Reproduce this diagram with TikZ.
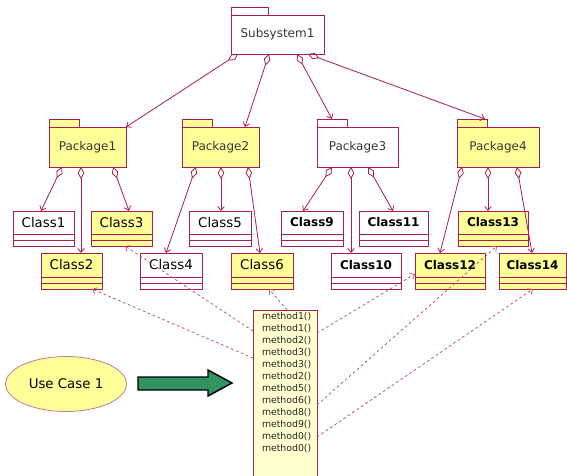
\documentclass[tikz,border=0pt]{standalone}
\usepackage{fontspec}
\setmainfont{DejaVu Sans}
\usetikzlibrary{arrows.meta,shapes.geometric}

\definecolor{umlred}{RGB}{168,30,80}
\definecolor{umlyellow}{RGB}{255,255,153}
\definecolor{notefill}{RGB}{255,255,208}
\definecolor{arrowgreen}{RGB}{49,146,98}
\definecolor{pkgtext}{RGB}{55,55,55}

\tikzset{
  every node/.style={inner sep=0pt, outer sep=0pt},
  umlline/.style={draw=umlred, line width=0.6pt},
  pkgbox/.style={umlline, line width=0.7pt, text=pkgtext, font=\fontsize{9}{11}\selectfont},
  classbox/.style={umlline, line width=0.7pt},
  plainname/.style={font=\fontsize{10}{12}\selectfont},
  boldname/.style={font=\bfseries\fontsize{9}{11}\selectfont},
  agg/.style={umlline, {Diamond[open,length=9pt,width=5pt]}-{Straight Barb[length=3pt,width=5pt]}},
  dep/.style={draw=umlred!80, line width=0.55pt, dash pattern=on 2pt off 2pt,
              -{Straight Barb[length=3pt,width=5pt]}},
}

% package: name, x1, y1, x2, y2, fill, label
\newcommand\umlpkg[7]{%
  \node[pkgbox, fill=#6, minimum width={(#4-#2)*0.75pt}, minimum height={(#5-#3)*0.75pt},
        anchor=north west] (#1) at (#2,#3) {#7};
  \node[pkgbox, fill=#6, minimum width=23pt, minimum height=6pt,
        anchor=south west] (#1-tab) at (#1.north west) {};
}

% class: name, x1, y1, x2, y2, fill, label style, label
\newcommand\umlclass[8]{%
  \node[classbox, fill=#6, minimum width={(#4-#2)*0.75pt}, minimum height={(#5-#3)*0.75pt},
        anchor=north west] (#1) at (#2,#3) {};
  \draw[umlline] ([yshift=9pt]#1.south west) -- ([yshift=9pt]#1.south east)
                 ([yshift=4.5pt]#1.south west) -- ([yshift=4.5pt]#1.south east);
  \node[#7] (#1-name) at ({(#2+#4)/2},{(#3+#5-12)/2}) {#8};
}

\begin{document}
\begin{tikzpicture}[x=0.75pt,y=-0.75pt]
\clip (0,0) rectangle (567,475);
\fill[white] (0,0) rectangle (567,475);

% subsystem
\node[pkgbox, fill=white, minimum width={93*0.75pt}, minimum height={39*0.75pt},
      anchor=north west] (sub) at (231,15) {Subsystem1};
\node[pkgbox, fill=white, minimum width={37*0.75pt}, minimum height=5.5pt,
      anchor=south west] (sub-tab) at (sub.north west) {};

% packages
\umlpkg{pk1}{49}{127}{126}{167}{umlyellow}{Package1}
\umlpkg{pk2}{182}{127}{259}{167}{umlyellow}{Package2}
\umlpkg{pk3}{317}{127}{398}{167}{white}{Package3}
\umlpkg{pk4}{457}{127}{539}{167}{umlyellow}{Package4}

% classes, upper row
\umlclass{c1}{13}{211}{74}{246}{white}{plainname}{Class1}
\umlclass{c3}{91}{211}{152}{246}{umlyellow}{plainname}{Class3}
\umlclass{c5}{189}{211}{251}{246}{white}{plainname}{Class5}
\umlclass{c9}{281}{211}{343}{246}{white}{boldname}{Class9}
\umlclass{c11}{359}{211}{428}{246}{white}{boldname}{Class11}
\umlclass{c13}{458}{211}{528}{246}{umlyellow}{boldname}{Class13}

% classes, lower row
\umlclass{c2}{41}{253}{102}{289}{umlyellow}{plainname}{Class2}
\umlclass{c4}{140}{253}{202}{289}{white}{plainname}{Class4}
\umlclass{c6}{231}{253}{293}{289}{umlyellow}{plainname}{Class6}
\umlclass{c10}{331}{253}{401}{289}{white}{boldname}{Class10}
\umlclass{c12}{415}{253}{485}{289}{umlyellow}{boldname}{Class12}
\umlclass{c14}{499}{253}{566}{289}{umlyellow}{boldname}{Class14}

% aggregations from the subsystem
\draw[agg] (238,0 |- sub.south) -- (pk1.north east);
\draw[agg] (269,0 |- sub.south) -- (245,0 |- pk2.north);
\draw[agg] (297,0 |- sub.south) -- (332,0 |- pk3-tab.north);
\draw[agg] (308,0 |- sub.south) -- (485,0 |- pk4-tab.north);

% aggregations from the packages
\draw[agg] (62,0 |- pk1.south) -- (41,0 |- c1.north);
\draw[agg] (81,0 |- pk1.south) -- (81,0 |- c2.north);
\draw[agg] (113,0 |- pk1.south) -- (129,0 |- c3.north);
\draw[agg] (196,0 |- pk2.south) -- (166,0 |- c4.north);
\draw[agg] (221,0 |- pk2.south) -- (221,0 |- c5.north);
\draw[agg] (248,0 |- pk2.south) -- (260,0 |- c6.north);
\draw[agg] (332,0 |- pk3.south) -- (303,0 |- c9.north);
\draw[agg] (351,0 |- pk3.south) -- (351,0 |- c10.north);
\draw[agg] (368,0 |- pk3.south) -- (393,0 |- c11.north);
\draw[agg] (462,0 |- pk4.south) -- (440,0 |- c12.north);
\draw[agg] (488,0 |- pk4.south) -- (488,0 |- c13.north);
\draw[agg] (517,0 |- pk4.south) -- (532,0 |- c14.north);

% method list
\node[classbox, fill=notefill, minimum width={64*0.75pt}, minimum height={172*0.75pt},
      anchor=north west] (mb) at (253,310) {};
\node[anchor=north west, align=left, text=black!85,
      font=\fontsize{7}{9}\selectfont] (mtext) at (262,312.5)
  {method1()\\method1()\\method2()\\method3()\\method3()\\method2()\\
   method5()\\method6()\\method8()\\method9()\\method0()\\method0()};

% dependencies from the method list
\draw[dep] (287,0 |- mb.north) -- (269,0 |- c6.south);
\draw[dep] (mb.west |- 0,331) -- (125,0 |- c3.south);
\draw[dep] (mb.west |- 0,358) -- (92,0 |- c2.south);
\draw[dep] (mb.east |- 0,333) -- (c12.west |- 0,274);
\draw[dep] (mb.east |- 0,405) -- (497,0 |- c13.south);
\draw[dep] (mb.east |- 0,437) -- (533,0 |- c14.south);

% use case and the green arrow
\node[ellipse, draw=umlred!60, line width=0.6pt, fill=umlyellow,
      minimum width={121*0.75pt}, minimum height={55*0.75pt},
      font=\fontsize{10}{12}\selectfont] (uc) at (66,384) {Use Case 1};
\filldraw[fill=arrowgreen, draw=black, line width=1.1pt, line join=miter]
  (138,377) -- (208,377) -- (208,370) -- (232,383) -- (208,396) -- (208,390)
  -- (138,390) -- cycle;
\end{tikzpicture}
\end{document}
